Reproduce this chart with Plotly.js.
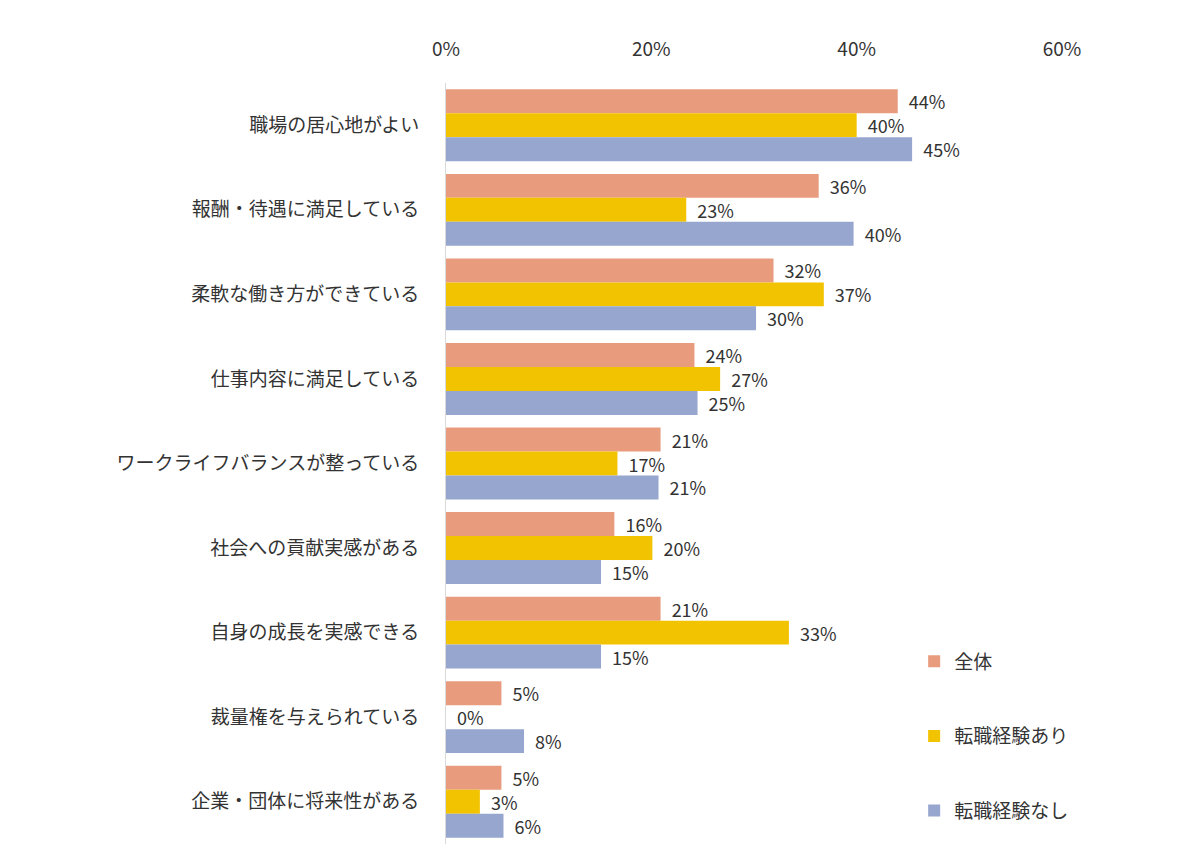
<!DOCTYPE html>
<html>
<head>
<meta charset="utf-8">
<script src="https://cdn.plot.ly/plotly-3.0.1.min.js"></script>
<style>
  html, body { margin: 0; padding: 0; background: #fff; }
  #chart { width: 1200px; height: 861px; }
</style>
</head>
<body>
<div id="chart"></div>
<script>
// categories, top to bottom
var categories = [
    "職場の居心地がよい",
    "報酬・待遇に満足している",
    "柔軟な働き方ができている",
    "仕事内容に満足している",
    "ワークライフバランスが整っている",
    "社会への貢献実感がある",
    "自身の成長を実感できる",
    "裁量権を与えられている",
    "企業・団体に将来性がある"
]

var seriesNames = ["全体", "転職経験あり", "転職経験なし"]

// values in %
var allValues = [44.0, 36.3, 31.9, 24.2, 20.9, 16.4, 20.9, 5.4, 5.4]
var withChangeValues = [40.0, 23.4, 36.8, 26.7, 16.7, 20.1, 33.4, 0, 3.3]
var withoutChangeValues = [45.4, 39.7, 30.2, 24.5, 20.7, 15.1, 15.1, 7.6, 5.6]

var colors = ["#E89B7D", "#F2C300", "#97A6CF"]
var font = "'Noto Sans CJK JP', 'Noto Sans', sans-serif"

function makeTrace(name, values, color, i){
    return {
        type: "bar",
        orientation: "h",
        name: name,
        legendgroup: "g" + i,
        y: categories,
        x: values.map(function(v){ return v / 100 }),
        marker: {color: color},
        text: values.map(function(v){ return Math.round(v) + "%" }),
        texttemplate: "\u00a0\u00a0%{text}",
        textposition: "outside",
        constraintext: "none",
        cliponaxis: false,
        textfont: {family: font, size: 18, color: "#333"},
        hoverinfo: "skip"
    }
}

var data = [
    makeTrace(seriesNames[0], allValues, colors[0], 0),
    makeTrace(seriesNames[1], withChangeValues, colors[1], 1),
    makeTrace(seriesNames[2], withoutChangeValues, colors[2], 2)
]

var layout = {
    width: 1200,
    height: 861,
    margin: {l: 446, r: 138, t: 83, b: 17},
    paper_bgcolor: "#fff",
    plot_bgcolor: "#fff",
    font: {family: font, size: 18, color: "#333"},
    barmode: "group",
    bargap: 0.15,
    bargroupgap: 0,
    showlegend: true,
    legend: {
        x: 0.76,
        xanchor: "left",
        y: 0.265,
        yanchor: "top",
        traceorder: "grouped",
        tracegroupgap: 47,
        itemwidth: 30,
        font: {family: font, size: 19, color: "#333"},
        bgcolor: "rgba(0,0,0,0)"
    },
    xaxis: {
        side: "top",
        range: [0, 0.6],
        tickvals: [0, 0.2, 0.4, 0.6],
        tickformat: ".0%",
        showgrid: false,
        zeroline: false,
        showline: false,
        ticks: "",
        ticklabelstandoff: 22,
        tickfont: {family: font, size: 19, color: "#333"}
    },
    yaxis: {
        autorange: "reversed",
        showgrid: false,
        zeroline: false,
        showline: true,
        linecolor: "#d9d9d9",
        linewidth: 1,
        ticks: "",
        ticklabelstandoff: 22,
        tickfont: {family: font, size: 19, color: "#333"}
    }
}

Plotly.newPlot("chart", data, layout, {displayModeBar: false, staticPlot: true})
</script>
</body>
</html>
